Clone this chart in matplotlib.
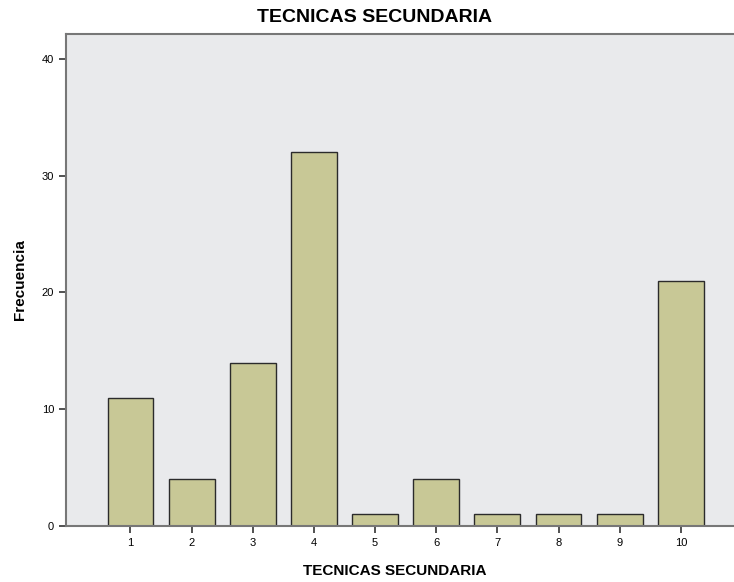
import numpy as np
import matplotlib.pyplot as plt

plt.rcParams['font.family'] = ['Liberation Sans', 'DejaVu Sans']

categorias = ['1', '2', '3', '4', '5', '6', '7', '8', '9', '10']
frecuencia = [11, 4, 14, 32, 1, 4, 1, 1, 1, 21]

fig = plt.figure(figsize=(7.34, 5.82), dpi=100)
ax = fig.add_axes([66/734, 56/582, 1 - 66/734, (526-34)/582])
ax.set_facecolor('#e9eaec')

x = np.arange(1, len(categorias) + 1)
ax.bar(x, frecuencia, width=0.75, color='#c8c896', edgecolor='#2b2b2b', linewidth=1.0, zorder=2)

ax.set_xlim(-0.054, 10.87)
ax.set_ylim(0, 42.14)
ax.set_xticks(x)
ax.set_xticklabels(categorias)
ax.set_yticks([0, 10, 20, 30, 40])
ax.tick_params(axis='both', labelsize=8, length=5, width=1.2, color='#333333')

for s in ['top', 'left', 'bottom']:
    ax.spines[s].set_color('#777777')
    ax.spines[s].set_linewidth(1.5)
ax.spines['right'].set_visible(False)

fig.text(375/734, 1 - 18/582, 'TECNICAS SECUNDARIA', ha='center', va='center',
         fontsize=14, fontweight='bold')
fig.text(395/734, 1 - 571/582, 'TECNICAS SECUNDARIA', ha='center', va='center',
         fontsize=11, fontweight='bold')
fig.text(20/734, 1 - 280/582, 'Frecuencia', ha='center', va='center',
         rotation=90, fontsize=11, fontweight='bold')

fig.savefig('out.png', dpi=100)
